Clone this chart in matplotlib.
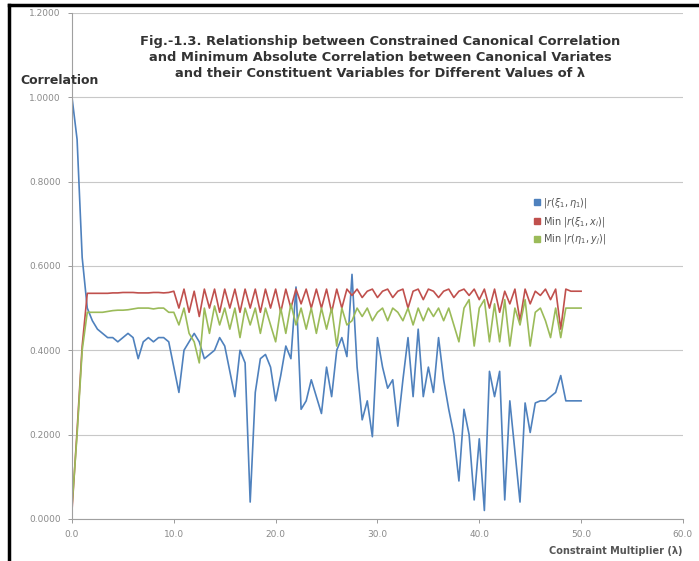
import numpy as np
import matplotlib.pyplot as plt
from matplotlib.lines import Line2D

# constraint multiplier, steps of 0.5 from 0 to 50
lam = np.arange(0, 50.01, 0.5)

# |r(xi1, eta1)|
canon = [1.00, 0.90, 0.62, 0.50, 0.47, 0.45, 0.44, 0.43, 0.43, 0.42,
         0.43, 0.44, 0.43, 0.38, 0.42, 0.43, 0.42, 0.43, 0.43, 0.42,
         0.36, 0.30, 0.40, 0.42, 0.44, 0.42, 0.38, 0.39, 0.40, 0.43,
         0.41, 0.35, 0.29, 0.40, 0.37, 0.04, 0.30, 0.38, 0.39, 0.36,
         0.28, 0.34, 0.41, 0.38, 0.55, 0.26, 0.28, 0.33, 0.29, 0.25,
         0.36, 0.29, 0.40, 0.43, 0.385, 0.58, 0.36, 0.235, 0.28, 0.195,
         0.43, 0.36, 0.31, 0.33, 0.22, 0.33, 0.43, 0.29, 0.45, 0.29,
         0.36, 0.30, 0.43, 0.33, 0.26, 0.20, 0.09, 0.26, 0.20, 0.045,
         0.19, 0.02, 0.35, 0.29, 0.35, 0.045, 0.28, 0.16, 0.04, 0.275,
         0.205, 0.275, 0.28, 0.28, 0.29, 0.30, 0.34, 0.28, 0.28, 0.28,
         0.28]

# Min |r(xi1, x_i)|
min_x = [0.02, 0.21, 0.41, 0.535, 0.535, 0.535, 0.535, 0.535, 0.536, 0.536,
         0.537, 0.537, 0.537, 0.536, 0.536, 0.536, 0.537, 0.537, 0.536, 0.537,
         0.54, 0.50, 0.545, 0.49, 0.54, 0.48, 0.545, 0.50, 0.545, 0.49,
         0.545, 0.50, 0.545, 0.49, 0.545, 0.50, 0.545, 0.49, 0.545, 0.50,
         0.545, 0.49, 0.545, 0.50, 0.545, 0.51, 0.545, 0.50, 0.545, 0.50,
         0.545, 0.49, 0.545, 0.50, 0.545, 0.53, 0.545, 0.525, 0.54, 0.545,
         0.525, 0.54, 0.545, 0.525, 0.54, 0.545, 0.50, 0.54, 0.545, 0.52,
         0.545, 0.54, 0.525, 0.54, 0.545, 0.525, 0.54, 0.545, 0.53, 0.545,
         0.52, 0.545, 0.50, 0.545, 0.49, 0.54, 0.51, 0.545, 0.47, 0.545,
         0.51, 0.54, 0.53, 0.545, 0.52, 0.545, 0.45, 0.545, 0.54, 0.54,
         0.54]

# Min |r(eta1, y_j)|
min_y = [0.03, 0.20, 0.40, 0.49, 0.49, 0.49, 0.49, 0.492, 0.494, 0.495,
         0.495, 0.496, 0.498, 0.50, 0.50, 0.50, 0.498, 0.50, 0.50, 0.49,
         0.49, 0.46, 0.50, 0.44, 0.42, 0.37, 0.50, 0.44, 0.505, 0.46,
         0.50, 0.45, 0.50, 0.43, 0.50, 0.46, 0.50, 0.44, 0.50, 0.46,
         0.42, 0.50, 0.44, 0.51, 0.46, 0.50, 0.45, 0.50, 0.44, 0.50,
         0.45, 0.50, 0.41, 0.50, 0.46, 0.47, 0.50, 0.48, 0.50, 0.47,
         0.49, 0.50, 0.47, 0.50, 0.49, 0.47, 0.50, 0.46, 0.50, 0.47,
         0.50, 0.48, 0.50, 0.47, 0.50, 0.46, 0.42, 0.50, 0.52, 0.41,
         0.50, 0.52, 0.42, 0.51, 0.42, 0.52, 0.41, 0.50, 0.46, 0.52,
         0.41, 0.49, 0.50, 0.47, 0.43, 0.50, 0.43, 0.50, 0.50, 0.50,
         0.50]

labels = [r'$|r(\xi_1,\eta_1)|$', r'Min $|r(\xi_1,x_i)|$', r'Min $|r(\eta_1,y_j)|$']
colors = ['#4F81BD', '#C0504D', '#9BBB59']

plt.rcParams['font.family'] = ['DejaVu Sans']
plt.rcParams['mathtext.fontset'] = 'dejavusans'

fig = plt.figure(figsize=(6.99, 5.61), dpi=100)
ax = fig.add_axes([0.103, 0.075, 0.874, 0.902])

for y, c in zip([canon, min_x, min_y], colors):
    ax.plot(lam, y, color=c, lw=1.2)

ax.set_xlim(0, 60)
ax.set_ylim(0, 1.2)
ax.set_xticks(np.arange(0, 61, 10))
ax.set_xticklabels(['%.1f' % v for v in np.arange(0, 61, 10)])
ax.set_yticks(np.arange(0, 1.21, 0.2))
ax.set_yticklabels(['%.4f' % v for v in np.arange(0, 1.21, 0.2)])
ax.tick_params(labelsize=6.5, colors='#8a8a8a', length=3, width=0.6, pad=5)
ax.grid(axis='y', color='#c8c8c8', lw=0.8)
ax.set_axisbelow(True)
for s in ['top', 'right']:
    ax.spines[s].set_visible(False)
for s in ['left', 'bottom']:
    ax.spines[s].set_color('#a0a0a0')
    ax.spines[s].set_linewidth(0.8)

ax.text(0.505, 0.957,
        'Fig.-1.3. Relationship between Constrained Canonical Correlation\n'
        'and Minimum Absolute Correlation between Canonical Variates\n'
        'and their Constituent Variables for Different Values of λ',
        transform=ax.transAxes, ha='center', va='top', fontsize=9.4,
        fontweight='bold', color='#333333', linespacing=1.3)
fig.text(0.029, 0.85, 'Correlation', fontsize=9, fontweight='bold', color='#333333')
fig.text(0.977, 0.013, 'Constraint Multiplier (λ)', ha='right', fontsize=7,
         fontweight='bold', color='#555555')

handles = [Line2D([], [], ls='none', marker='s', ms=4, color=c) for c in colors]
ax.legend(handles, labels, loc='upper left', bbox_to_anchor=(0.74, 0.655),
          frameon=False, fontsize=7, handletextpad=0.2, labelspacing=0.45,
          handlelength=0.8, labelcolor='#555555')

# partial frame round the chart
fig.add_artist(Line2D([0.0135, 0.0135], [0, 0.991], color='black', lw=2.5,
                      transform=fig.transFigure))
fig.add_artist(Line2D([0.0135, 1.0], [0.991, 0.991], color='black', lw=2.5,
                      transform=fig.transFigure))

fig.savefig('out.png', dpi=100)
